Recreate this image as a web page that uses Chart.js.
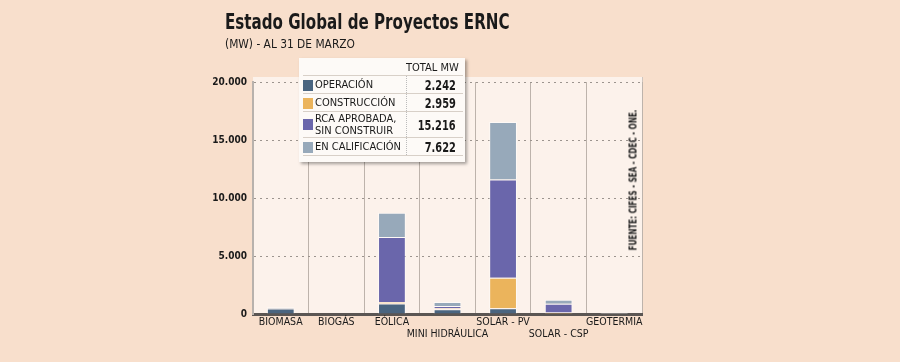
<!DOCTYPE html>
<html>
<head>
<meta charset="utf-8">
<script src="https://cdn.jsdelivr.net/npm/chart.js@4/dist/chart.umd.min.js"></script>
<style>
  html, body { margin: 0; padding: 0; }
  body { width: 900px; height: 362px; background: #f8dfcc; position: relative; overflow: hidden;
         font-family: "DejaVu Sans Condensed", sans-serif; color: #1a1a1a; }
  #chartWrap { position: absolute; left: 0; top: 0; width: 900px; height: 362px; }
  h1 { position: absolute; left: 225px; top: 10px; margin: 0; font-size: 21px; font-weight: bold;
       white-space: nowrap; transform: scaleX(0.8); transform-origin: left top; }
  .sub { position: absolute; left: 225px; top: 36px; font-size: 13px; white-space: nowrap;
         transform: scaleX(0.91); transform-origin: left top; }
  .fuente { position: absolute; left: 633px; top: 180px; font-size: 10px; font-weight: bold; white-space: nowrap;
            transform: translate(-50%, -50%) rotate(-90deg) scaleX(0.8); }
  #legendBox { position: absolute; left: 299px; top: 58px; width: 166px; height: 104px;
               background: #fdfaf7; box-shadow: 2px 2px 3px rgba(0,0,0,0.35); font-size: 11px; }
  #legendBox table { border-collapse: collapse; table-layout: fixed; width: 160px; margin-left: 4px; margin-top: 2px; }
  #legendBox td { border-bottom: 1px solid #d8d0c8; padding: 0; vertical-align: middle; white-space: nowrap; }
  #legendBox td.labcol { width: 103px; }
  #legendBox td.val { text-align: right; font-weight: bold; font-size: 14px; border-left: 1px dotted #bbb; padding-right: 7px; }
  #legendBox td.head { text-align: right; font-size: 11px; padding-right: 7px; height: 15px; }
  .num { display: inline-block; transform: scaleX(0.78); transform-origin: right center; }
  .sw { display: inline-block; width: 10px; height: 11px; margin-right: 2px; vertical-align: middle; }
  .lab { display: inline-block; vertical-align: middle; line-height: 12px; }
</style>
</head>
<body>
<div id="chartWrap"><canvas id="dataChart" width="900" height="362"></canvas></div>
<h1>Estado Global de Proyectos ERNC</h1>
<div class="sub">(MW) - AL 31 DE MARZO</div>
<div class="fuente">FUENTE: CIFES - SEA - CDEC - ONE.</div>
<div id="legendBox"><table id="legendTable"></table></div>

<script>
// categorias y valores (MW)
let categories = ['BIOMASA', 'BIOGÁS', 'EÓLICA', 'MINI HIDRÁULICA', 'SOLAR - PV', 'SOLAR - CSP', 'GEOTERMIA'];
let operacion = [470, 0, 900, 400, 500, 0, 0];
let construccion = [0, 0, 130, 100, 2625, 130, 0];
let rcaAprobada = [0, 0, 5600, 200, 8460, 750, 0];
let enCalificacion = [110, 40, 2100, 330, 4975, 345, 120];

let seriesNames = ['OPERACIÓN', 'CONSTRUCCIÓN', 'RCA APROBADA,\nSIN CONSTRUIR', 'EN CALIFICACIÓN'];
let totals = ['2.242', '2.959', '15.216', '7.622'];
let yTicks = [0, 5000, 10000, 15000, 20000];

let colors = ['#4a6580', '#ebb45c', '#6a66ab', '#97a9ba'];

// etiquetas que van en la segunda linea
let xLabels = categories.map((c, i) => (i === 3 || i === 5) ? ['', c] : c);

// fondo del area del grafico
const plotBg = {
    id: 'plotBg',
    beforeDraw(chart) {
        const a = chart.chartArea;
        const c = chart.ctx;
        c.save();
        c.fillStyle = '#fcf2eb';
        c.fillRect(a.left, a.top - 5, a.right - a.left, a.bottom - a.top + 5);
        c.strokeStyle = '#cfc6bf';
        c.lineWidth = 1;
        c.beginPath();
        c.moveTo(a.right + 0.5, a.top - 5);
        c.lineTo(a.right + 0.5, a.bottom);
        c.stroke();
        c.restore();
    }
};

let ctx = document.getElementById('dataChart').getContext('2d');
let data = [operacion, construccion, rcaAprobada, enCalificacion];

let myBarChart = new Chart(ctx, {
    type: 'bar',
    data: {
        labels: xLabels,
        datasets: data.map((d, i) => ({
            label: seriesNames[i],
            data: d,
            backgroundColor: i === 3 ? d.map((v, j) => j === 6 ? '#ffffff' : (j === 1 ? '#c9d2dc' : colors[3])) : colors[i],
            borderColor: 'rgba(255,255,255,0.55)',
            borderWidth: 1,
            barPercentage: 0.5,
            categoryPercentage: 1
        }))
    },
    options: {
        responsive: false,
        animation: false,
        layout: { padding: { left: 0, right: 258, top: 82, bottom: 0 } },
        plugins: { legend: { display: false }, tooltip: { enabled: false } },
        scales: {
            x: {
                stacked: true,
                afterFit: function(scale) { scale.height = 48; },
                grid: { offset: true, color: '#bdb3ab', lineWidth: 1, drawTicks: false },
                border: { color: '#5b5653', width: 3 },
                ticks: {
                    color: '#1a1a1a', padding: 2, maxRotation: 0, autoSkip: false,
                    font: { family: "DejaVu Sans Condensed", size: 10.5, lineHeight: 1.15 }
                }
            },
            y: {
                stacked: true,
                min: 0, max: 20000,
                afterFit: function(scale) { scale.width = 253; },
                afterBuildTicks: function(scale) { scale.ticks = yTicks.map(v => ({ value: v })); },
                grid: { color: '#9c948e', lineWidth: 1, drawTicks: false },
                border: { color: '#b8b2ad', width: 2, dash: [2, 4] },
                ticks: {
                    color: '#1a1a1a', padding: 6,
                    font: { family: "DejaVu Sans Condensed", size: 10, weight: 'bold' },
                    callback: v => String(v).replace(/\B(?=(\d{3})+(?!\d))/g, '.')
                }
            }
        }
    },
    plugins: [plotBg]
});

// tabla de leyenda
let rows = '<tr><td class="labcol"></td><td class="head">TOTAL MW</td></tr>';
seriesNames.forEach((n, i) => {
    let h = i === 2 ? 26 : 18;
    rows += '<tr style="height:' + h + 'px"><td class="labcol"><span class="sw" style="background:' + colors[i] + '"></span>' +
        '<span class="lab">' + n.replace('\n', '<br>') + '</span></td><td class="val"><span class="num">' + totals[i] + '</span></td></tr>';
});
document.getElementById('legendTable').innerHTML = rows;
</script>
</body>
</html>
